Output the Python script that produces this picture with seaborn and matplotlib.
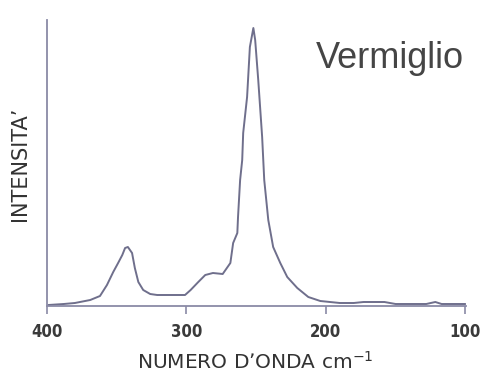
import matplotlib
matplotlib.use("Agg")
import matplotlib.pyplot as plt
import seaborn as sns
import pandas as pd

# Raman spectrum of vermilion (cinnabar, HgS)
wavenumber = [399, 388, 380, 369, 362, 357, 352.5, 349, 346, 344, 342, 339,
              337, 334.5, 331, 326, 321, 311, 301, 297, 291.5, 286.5, 281,
              274, 268.5, 266.5, 263.5, 263, 261.5, 260, 259.3, 256.5, 254.5,
              252, 250.7, 248.5, 245.7, 244.2, 241.3, 237.8, 232.7, 227.7,
              220.5, 212.6, 204, 197, 190, 180, 173, 165, 158, 150, 140,
              128, 121.5, 117, 110, 100]
intensity = [1, 2, 3, 6, 10, 21, 34, 43, 51, 58, 59, 53,
             38, 24, 16, 12, 11, 11, 11, 16, 24, 31, 33,
             32, 43, 63, 73, 89, 126, 146, 173, 209, 259,
             278, 266, 226, 169, 126, 86, 59, 43, 29,
             18, 9, 5, 4, 3, 3, 4, 4, 4, 2, 2,
             2, 4, 2, 2, 2]

x_ticks = [400, 300, 200, 100]
title_text = "Vermiglio"
x_label = "NUMERO D\u2019ONDA cm$^{-1}$"
y_label = "INTENSITA\u2019"

df = pd.DataFrame({"wavenumber": wavenumber, "intensity": intensity})

sns.set_theme(style="white")
plt.rcParams["font.family"] = ["DejaVu Sans"]

fig = plt.figure(figsize=(4.84, 3.72), dpi=100)
ax = fig.add_axes([47 / 484, 1 - 306 / 372, 419 / 484, 286 / 372])

sns.lineplot(data=df, x="wavenumber", y="intensity", ax=ax,
             color="#6f6f8c", linewidth=1.4,
             estimator=None, sort=False)

ax.set_xlim(400, 99.5)
ax.set_ylim(0, 286)

spine_color = "#8a8aa6"
for side in ("top", "right"):
    ax.spines[side].set_visible(False)
for side in ("left", "bottom"):
    ax.spines[side].set_color(spine_color)
    ax.spines[side].set_linewidth(1.3)

ax.set_yticks([])
ax.set_xticks(x_ticks)
ax.set_xticklabels([str(t) for t in x_ticks], fontsize=12, fontweight="bold",
                   color="#3a3a3a", fontstretch="condensed")
ax.tick_params(axis="x", direction="out", length=6, width=1.2,
               color=spine_color, pad=6, bottom=True)

ax.set_xlabel("")
ax.set_ylabel("")
fig.text(255 / 484, 1 - 362 / 372, x_label, ha="center", va="center",
         fontsize=14.5, color="#333333")
fig.text(20 / 484, 1 - 164 / 372, y_label, ha="center", va="center",
         rotation=90, fontsize=15, color="#333333")
fig.text(316 / 484, 1 - 68 / 372, title_text, ha="left", va="baseline",
         fontsize=26, color="#454545", family=["Liberation Sans", "DejaVu Sans"])

fig.savefig("out.png", dpi=100)
